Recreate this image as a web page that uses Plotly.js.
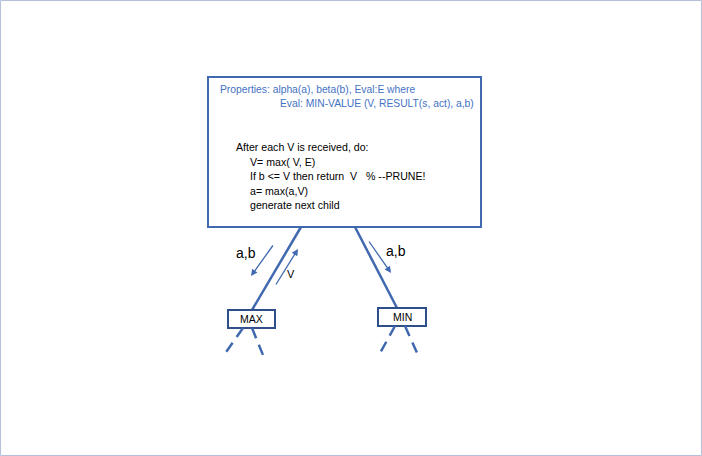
<!DOCTYPE html>
<html>
<head>
<meta charset="utf-8">
<script src="https://cdn.plot.ly/plotly-3.0.1.min.js"></script>
<style>html,body{margin:0;padding:0;background:#fff}</style>
</head>
<body>
<div id="chart" style="width:702px;height:456px"></div>
<script>
// diagram content
const headerLines = ['Properties: alpha(a), beta(b), Eval:E where', 'Eval: MIN-VALUE (V, RESULT(s, act), a,b)'];
const bodyLines = ['After each V is received, do:', 'V= max( V, E)', 'If b <= V then return  V   % --PRUNE!', 'a= max(a,V)', 'generate next child'];
const nodeNames = ['MAX', 'MIN'];
const edgeLabels = ['a,b', 'V', 'a,b'];

const blue = '#4472C4';
const line = '#4169B0';

const shapes = [
    // page frame
    { type: 'rect', x0: 0.5, x1: 701.5, y0: 0.5, y1: 455.5, line: { color: '#B4C0DC', width: 1 } },
    // main box
    { type: 'rect', x0: 208, x1: 481, y0: 77, y1: 227, line: { color: line, width: 2 } },
    // edges
    { type: 'line', x0: 301, y0: 227, x1: 252, y1: 310, line: { color: line, width: 2.5 } },
    { type: 'line', x0: 355, y0: 227, x1: 397, y1: 308, line: { color: line, width: 2.5 } },
    // child boxes
    { type: 'rect', x0: 228, x1: 275, y0: 310, y1: 328, line: { color: '#2F4F8A', width: 2 } },
    { type: 'rect', x0: 378, x1: 426, y0: 308, y1: 326, line: { color: '#2F4F8A', width: 2 } },
    // dashed stubs
    { type: 'line', x0: 243, y0: 328, x1: 224, y1: 355, line: { color: line, width: 2.5, dash: '11px,7px' } },
    { type: 'line', x0: 252, y0: 328, x1: 263, y1: 355, line: { color: line, width: 2.5, dash: '11px,7px' } },
    { type: 'line', x0: 395, y0: 326, x1: 379, y1: 355, line: { color: line, width: 2.5, dash: '11px,7px' } },
    { type: 'line', x0: 405, y0: 326, x1: 418, y1: 355, line: { color: line, width: 2.5, dash: '11px,7px' } },
];

const font = 'Liberation Sans, Arial, sans-serif';
const annotations = [];
const txt = (x, y, t, size, color, anchor) => annotations.push({
    x: x, y: y, text: t, showarrow: false, xanchor: anchor || 'left', yanchor: 'middle',
    font: { family: font, size: size, color: color }
});

txt(218, 89, headerLines[0], 10.3, blue);
txt(278, 103, headerLines[1], 10.3, blue);
bodyLines.forEach((t, i) => txt(i === 0 ? 234 : 248, 147 + i * 14.5, t, 10.6, '#000'));
txt(251.5, 319, nodeNames[0], 10.5, '#000', 'center');
txt(402, 317, nodeNames[1], 10.5, '#000', 'center');
txt(246, 253, edgeLabels[0], 14, '#000', 'center');
txt(291, 274, edgeLabels[1], 11, '#000', 'center');
txt(396, 251, edgeLabels[2], 14, '#000', 'center');

// arrows
const arrow = (x0, y0, x1, y1) => annotations.push({
    x: x1, y: y1, ax: x0, ay: y0, axref: 'x', ayref: 'y', xref: 'x', yref: 'y',
    showarrow: true, arrowhead: 2, arrowsize: 1, arrowwidth: 1.3, arrowcolor: line, text: ''
});
arrow(274, 244, 251, 276);
arrow(275, 286, 298, 249);
arrow(368, 240, 391, 273);

const layout = {
    width: 702, height: 456,
    margin: { t: 0, b: 0, l: 0, r: 0 },
    paper_bgcolor: '#fff', plot_bgcolor: '#fff',
    xaxis: { range: [0, 702], visible: false, fixedrange: true },
    yaxis: { range: [456, 0], visible: false, fixedrange: true },
    shapes: shapes,
    annotations: annotations,
    showlegend: false,
};

Plotly.newPlot('chart', [], layout, { staticPlot: true });
</script>
</body>
</html>
